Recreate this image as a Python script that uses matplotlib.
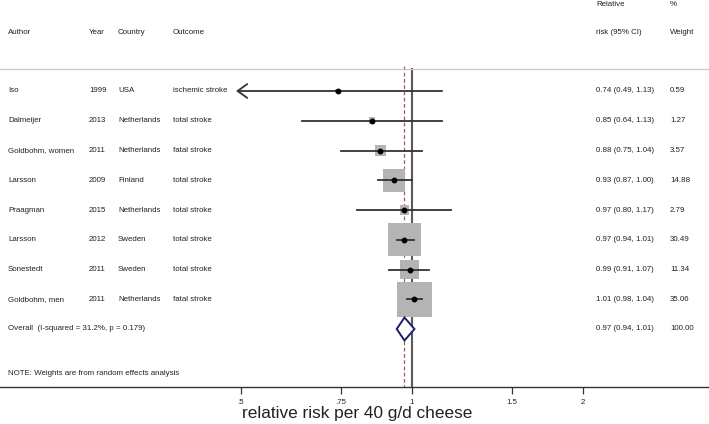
import numpy as np
import matplotlib
matplotlib.use("Agg")
import matplotlib.pyplot as plt
from matplotlib.patches import Polygon
from matplotlib.transforms import blended_transform_factory

plt.rcParams["font.family"] = ["Liberation Sans", "DejaVu Sans"]

# study data
authors = ["Iso", "Dalmeijer", "Goldbohm, women", "Larsson", "Praagman",
           "Larsson", "Sonestedt", "Goldbohm, men"]
years = ["1999", "2013", "2011", "2009", "2015", "2012", "2011", "2011"]
countries = ["USA", "Netherlands", "Netherlands", "Finland", "Netherlands",
             "Sweden", "Sweden", "Netherlands"]
outcomes = ["ischemic stroke", "total stroke", "fatal stroke", "total stroke",
            "total stroke", "total stroke", "total stroke", "fatal stroke"]
rr = [0.74, 0.85, 0.88, 0.93, 0.97, 0.97, 0.99, 1.01]
rr_lo = [0.49, 0.64, 0.75, 0.87, 0.80, 0.94, 0.91, 0.98]
rr_hi = [1.13, 1.13, 1.04, 1.00, 1.17, 1.01, 1.07, 1.04]
weights = [0.59, 1.27, 3.57, 14.88, 2.79, 30.49, 11.34, 35.06]

overall = 0.97
overall_lo = 0.94
overall_hi = 1.01
overall_label = "Overall  (I-squared = 31.2%, p = 0.179)"
note = "NOTE: Weights are from random effects analysis"

xticks = [0.5, 0.75, 1, 1.5, 2]
xtick_labels = [".5", ".75", "1", "1.5", "2"]

W, H = 709, 424
fig = plt.figure(figsize=(W / 100, H / 100), dpi=100)
ax = fig.add_axes([0, 0, 1, 1])

# pixel mapping: px = 412 + 246.7 * ln(x), rows: px = 91 + 29.75 * r
x0px, xscale = 412.0, 246.7
ax.set_xscale("log")
ax.set_xlim(np.exp(-x0px / xscale), np.exp((W - x0px) / xscale))
y0px, ystep = 91.0, 29.75
ax.set_ylim((H - y0px) / ystep, -y0px / ystep)

def row(px):
    return (px - y0px) / ystep

txt = "#222222"
fs = 5.7
tr = blended_transform_factory(ax.transAxes, ax.transData)

# headers
cols = {"Author": 8, "Year": 89, "Country": 118, "Outcome": 173}
for name, px in cols.items():
    ax.text(px / W, row(33), name, transform=tr, fontsize=fs, color=txt, va="center")
ax.text(596 / W, row(5), "Relative", transform=tr, fontsize=fs, color=txt, va="center")
ax.text(596 / W, row(33), "risk (95% CI)", transform=tr, fontsize=fs, color=txt, va="center")
ax.text(670 / W, row(5), "%", transform=tr, fontsize=fs, color=txt, va="center")
ax.text(670 / W, row(33), "Weight", transform=tr, fontsize=fs, color=txt, va="center")

sep_y = row(69.3)
axis_y = row(386.7)
ax.axhline(sep_y, color="#c8c8c8", lw=0.9)

n = len(rr)
rows = np.arange(n)
for i in range(n):
    ax.text(8 / W, i, authors[i], transform=tr, fontsize=fs, color=txt, va="center")
    ax.text(89 / W, i, years[i], transform=tr, fontsize=fs, color=txt, va="center")
    ax.text(118 / W, i, countries[i], transform=tr, fontsize=fs, color=txt, va="center")
    ax.text(173 / W, i, outcomes[i], transform=tr, fontsize=fs, color=txt, va="center")
    ax.text(596 / W, i, f"{rr[i]:.2f} ({rr_lo[i]:.2f}, {rr_hi[i]:.2f})",
            transform=tr, fontsize=fs, color=txt, va="center")
    ax.text(670 / W, i, f"{weights[i]:.2f}", transform=tr, fontsize=fs,
            color=txt, va="center")

# reference lines
ax.plot([1, 1], [sep_y, axis_y], color="#5a5a5a", lw=1.5, zorder=1)
ax.plot([overall, overall], [sep_y - 0.12, axis_y], color="#a05a5a", lw=0.9,
        dashes=(3, 2), zorder=1)

# weight boxes
ax.scatter(rr, rows, s=[18.0 * w for w in weights], marker="s",
           color="#b4b4b4", linewidths=0, zorder=2)

# confidence intervals
for i in range(n):
    if i == 0:
        ax.annotate("", xy=(rr_lo[i], i), xytext=(rr_hi[i], i),
                    arrowprops=dict(arrowstyle="->,head_length=0.7,head_width=0.5",
                                    color="#333333", lw=1.3, shrinkA=0, shrinkB=0,
                                    mutation_scale=10), zorder=3)
    else:
        ax.plot([rr_lo[i], rr_hi[i]], [i, i], color="#333333", lw=1.3, zorder=3)
ax.plot(rr, rows, "o", color="black", ms=3.2, zorder=4)

# overall diamond
oy = n
h = 11.5 / ystep
ax.add_patch(Polygon([(overall_lo, oy), (overall, oy - h), (overall_hi, oy),
                      (overall, oy + h)], closed=True, facecolor="white",
                     edgecolor="#1f1f6b", lw=1.4, zorder=3))
ax.text(8 / W, oy, overall_label, transform=tr, fontsize=fs, color=txt, va="center")
ax.text(596 / W, oy, f"{overall:.2f} ({overall_lo:.2f}, {overall_hi:.2f})",
        transform=tr, fontsize=fs, color=txt, va="center")
ax.text(670 / W, oy, "100.00", transform=tr, fontsize=fs, color=txt, va="center")
ax.text(8 / W, row(373.3), note, transform=tr, fontsize=fs, color=txt, va="center")

# x axis
for s in ["top", "right", "left"]:
    ax.spines[s].set_visible(False)
ax.spines["bottom"].set_position(("data", axis_y))
ax.spines["bottom"].set_color("#333333")
ax.spines["bottom"].set_linewidth(1.0)
ax.set_xticks(xticks)
ax.set_xticklabels(xtick_labels)
ax.xaxis.set_minor_locator(matplotlib.ticker.NullLocator())
ax.tick_params(axis="x", direction="out", length=5, width=0.9, color="#333333",
               labelsize=fs, labelcolor=txt, pad=3.5)
ax.set_yticks([])
ax.text(357 / W, row(413), "relative risk per 40 g/d cheese", transform=tr,
        fontsize=12.4, color=txt, ha="center", va="center")

fig.savefig("out.png", dpi=100)
